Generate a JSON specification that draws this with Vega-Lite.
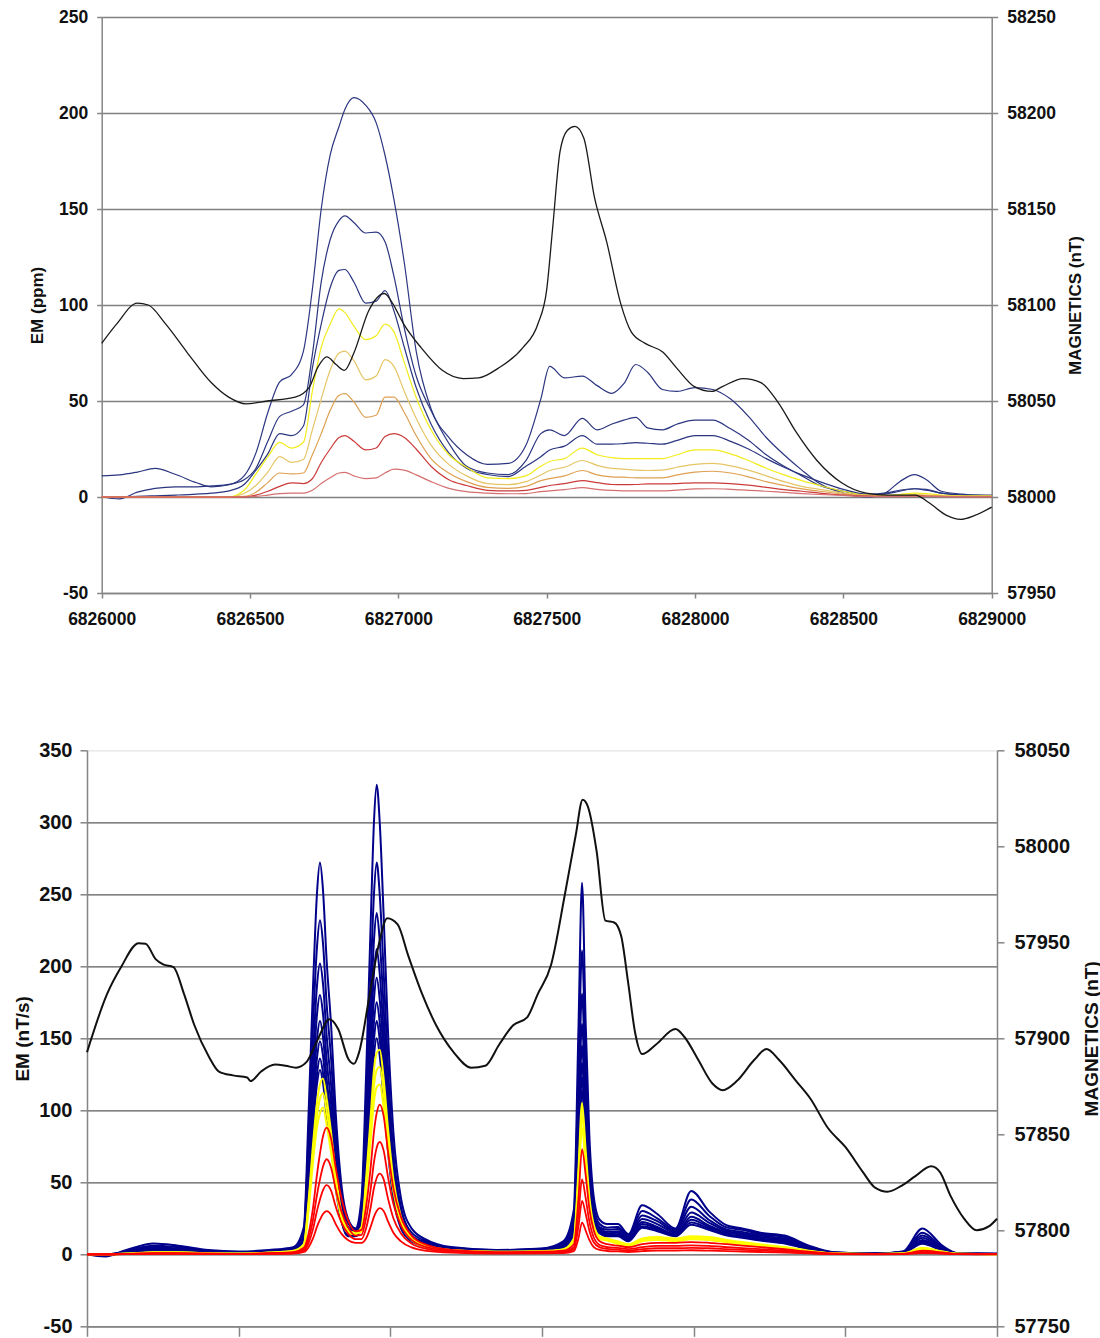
{
"$schema":"https://vega.github.io/schema/vega-lite/v6.json",
"background":"white",
"padding":{"left":13,"top":8,"right":0,"bottom":0},
"bounds":"flush",
"spacing":157.3,
"config":{"view":{"stroke":null},"axis":{"labelFont":"Liberation Sans","titleFont":"Liberation Sans","labelColor":"#111111","titleColor":"#111111","labelFontWeight":"bold","titleFontWeight":"bold","domainColor":"#858585","tickColor":"#858585","domainWidth":1.5,"tickWidth":1.5}},
"datasets":{
"tem":[
{"x":6826000,"t1":11,"t2":0,"t3":0,"t4":0,"t5":0,"t6":0,"t7":0,"t8":0},
{"x":6826060,"t1":11.5,"t2":-1,"t3":0,"t4":0,"t5":0,"t6":0,"t7":0,"t8":0},
{"x":6826120,"t1":13,"t2":2.5,"t3":0.3,"t4":0,"t5":0,"t6":0,"t7":0,"t8":0},
{"x":6826180,"t1":14.9,"t2":4.5,"t3":0.6,"t4":0,"t5":0,"t6":0,"t7":0,"t8":0},
{"x":6826250,"t1":11.7,"t2":5.3,"t3":1,"t4":0,"t5":0,"t6":0,"t7":0,"t8":0},
{"x":6826320,"t1":7.4,"t2":5.3,"t3":1.5,"t4":0,"t5":0,"t6":0,"t7":0,"t8":0},
{"x":6826370,"t1":5.3,"t2":5.8,"t3":2,"t4":0,"t5":0,"t6":0,"t7":0,"t8":0},
{"x":6826430,"t1":6.4,"t2":6.6,"t3":3.2,"t4":0.1,"t5":0,"t6":0,"t7":0,"t8":0},
{"x":6826480,"t1":11,"t2":9,"t3":6.5,"t4":3.5,"t5":1.8,"t6":0.3,"t7":0,"t8":0.1},
{"x":6826520,"t1":23,"t2":15,"t3":14,"t4":12,"t5":6,"t6":2.5,"t7":1,"t8":0.3},
{"x":6826560,"t1":44,"t2":29,"t3":22.5,"t4":21,"t5":13,"t6":7.5,"t7":3,"t8":1},
{"x":6826600,"t1":60,"t2":42,"t3":33,"t4":28.5,"t5":21,"t6":12.5,"t7":5.5,"t8":1.8},
{"x":6826640,"t1":63.8,"t2":44.7,"t3":32,"t4":25.5,"t5":18,"t6":12,"t7":7.4,"t8":2},
{"x":6826680,"t1":76,"t2":48,"t3":37,"t4":28.5,"t5":19.5,"t6":12.5,"t7":7,"t8":2},
{"x":6826710,"t1":108,"t2":74,"t3":67,"t4":55,"t5":35,"t6":22,"t7":9.5,"t8":3.5},
{"x":6826740,"t1":150,"t2":112,"t3":90,"t4":78,"t5":51,"t6":33,"t7":18,"t8":7},
{"x":6826770,"t1":178,"t2":134,"t3":109,"t4":90,"t5":66,"t6":45,"t7":25,"t8":10},
{"x":6826800,"t1":193,"t2":144,"t3":118,"t4":98,"t5":75,"t6":53,"t7":31,"t8":12.5},
{"x":6826820,"t1":202,"t2":146.4,"t3":118.5,"t4":96,"t5":76,"t6":53.8,"t7":32,"t8":12.8},
{"x":6826850,"t1":208,"t2":143,"t3":112,"t4":89,"t5":71,"t6":49.5,"t7":29,"t8":11},
{"x":6826890,"t1":204,"t2":137.5,"t3":101,"t4":82,"t5":61,"t6":41.5,"t7":24.5,"t8":9.6},
{"x":6826925,"t1":195,"t2":138,"t3":102,"t4":84,"t5":63,"t6":42.6,"t7":25.5,"t8":10},
{"x":6826955,"t1":178,"t2":133,"t3":107.5,"t4":90,"t5":71.5,"t6":52,"t7":31.5,"t8":12.5},
{"x":6826985,"t1":155,"t2":115,"t3":97,"t4":86,"t5":68,"t6":52,"t7":33,"t8":14.5},
{"x":6827020,"t1":122,"t2":88,"t3":78,"t4":70,"t5":55,"t6":44,"t7":31,"t8":14},
{"x":6827060,"t1":76,"t2":63,"t3":57,"t4":52,"t5":41,"t6":32,"t7":25,"t8":11.5},
{"x":6827110,"t1":46,"t2":45,"t3":38,"t4":35,"t5":27,"t6":20,"t7":16,"t8":8},
{"x":6827170,"t1":31,"t2":28,"t3":23,"t4":22,"t5":17,"t6":12.5,"t7":9,"t8":4.5},
{"x":6827230,"t1":22,"t2":16,"t3":15,"t4":15.5,"t5":11,"t6":8,"t7":6,"t8":2.8},
{"x":6827300,"t1":17,"t2":12.5,"t3":11.7,"t4":10,"t5":7,"t6":5,"t7":3.5,"t8":2},
{"x":6827370,"t1":17.5,"t2":11.7,"t3":10.6,"t4":9.6,"t5":6.4,"t6":4.5,"t7":3.2,"t8":1.7},
{"x":6827430,"t1":27,"t2":19,"t3":16,"t4":11,"t5":8,"t6":5.5,"t7":3.5,"t8":1.8},
{"x":6827480,"t1":51,"t2":33,"t3":21,"t4":16,"t5":11.5,"t6":8.5,"t7":5,"t8":2.8},
{"x":6827510,"t1":68,"t2":35,"t3":24.5,"t4":18.5,"t5":13.8,"t6":9.6,"t7":6,"t8":3.2},
{"x":6827560,"t1":62,"t2":32,"t3":26.5,"t4":20,"t5":15.5,"t6":11,"t7":7,"t8":3.8},
{"x":6827620,"t1":63,"t2":41,"t3":32,"t4":25.5,"t5":19,"t6":13.8,"t7":8.5,"t8":4.9},
{"x":6827670,"t1":58,"t2":35,"t3":27.5,"t4":22,"t5":16.5,"t6":11.5,"t7":7.5,"t8":4},
{"x":6827720,"t1":54,"t2":38,"t3":27.5,"t4":20.5,"t5":14.9,"t6":10.5,"t7":6.5,"t8":3.4},
{"x":6827760,"t1":59,"t2":40,"t3":27.8,"t4":20,"t5":14.5,"t6":10.3,"t7":6.4,"t8":3.2},
{"x":6827800,"t1":69,"t2":41.5,"t3":28.3,"t4":20,"t5":14,"t6":10,"t7":6.5,"t8":3.2},
{"x":6827840,"t1":65,"t2":36,"t3":28,"t4":20,"t5":13.8,"t6":10,"t7":6.8,"t8":3.2},
{"x":6827890,"t1":56,"t2":35,"t3":27.5,"t4":20,"t5":14,"t6":10,"t7":6.8,"t8":3.2},
{"x":6827940,"t1":55,"t2":38,"t3":29.5,"t4":22,"t5":15.5,"t6":11.5,"t7":7,"t8":3.6},
{"x":6828000,"t1":57,"t2":40,"t3":32,"t4":24.5,"t5":17,"t6":13,"t7":7.4,"t8":4.2},
{"x":6828060,"t1":56,"t2":40,"t3":32,"t4":24.5,"t5":17.5,"t6":13.4,"t7":7.4,"t8":4.3},
{"x":6828120,"t1":51,"t2":35.5,"t3":29,"t4":22.5,"t5":16.2,"t6":12.5,"t7":7,"t8":4},
{"x":6828180,"t1":42,"t2":29.5,"t3":25,"t4":19,"t5":14,"t6":10.5,"t7":6.2,"t8":3.5},
{"x":6828240,"t1":31,"t2":22,"t3":20,"t4":15,"t5":11,"t6":8,"t7":5,"t8":3},
{"x":6828300,"t1":22,"t2":16,"t3":15.5,"t4":11.5,"t5":8,"t6":6,"t7":3.8,"t8":2.4},
{"x":6828360,"t1":14,"t2":11,"t3":11.5,"t4":8.5,"t5":5.5,"t6":4.2,"t7":3,"t8":1.8},
{"x":6828420,"t1":7,"t2":6,"t3":8,"t4":6,"t5":4,"t6":3,"t7":2,"t8":1.3},
{"x":6828500,"t1":2,"t2":3,"t3":4,"t4":3,"t5":2,"t6":1.5,"t7":1,"t8":0.8},
{"x":6828580,"t1":0,"t2":1,"t3":1.5,"t4":1,"t5":0.8,"t6":0.6,"t7":0.5,"t8":0.3},
{"x":6828640,"t1":2,"t2":1.5,"t3":2,"t4":0.8,"t5":0.5,"t6":0.3,"t7":0.3,"t8":0.2},
{"x":6828690,"t1":8,"t2":3,"t3":3.5,"t4":1.3,"t5":0.8,"t6":0.5,"t7":0.3,"t8":0.2},
{"x":6828740,"t1":11.7,"t2":4.3,"t3":4.3,"t4":2,"t5":1.2,"t6":0.8,"t7":0.5,"t8":0.3},
{"x":6828780,"t1":9,"t2":3.5,"t3":4,"t4":1.8,"t5":1,"t6":0.6,"t7":0.4,"t8":0.3},
{"x":6828830,"t1":3,"t2":2,"t3":2,"t4":1,"t5":0.6,"t6":0.3,"t7":0.3,"t8":0.2},
{"x":6828900,"t1":1.5,"t2":1,"t3":1,"t4":0.6,"t5":0.4,"t6":0.2,"t7":0.2,"t8":0.2},
{"x":6828950,"t1":1,"t2":0.8,"t3":0.8,"t4":0.6,"t5":0.4,"t6":0.2,"t7":0.2,"t8":0.2},
{"x":6829000,"t1":1,"t2":0.6,"t3":0.6,"t4":0.6,"t5":0.4,"t6":0.2,"t7":0.2,"t8":0.2}
],
"tmag":[
{"x":6826000,"m":58080},{"x":6826050,"m":58090},{"x":6826120,"m":58101},{"x":6826157,"m":58100},{"x":6826216,"m":58090},{"x":6826287,"m":58075.5},{"x":6826369,"m":58059.6},{"x":6826428,"m":58052},{"x":6826487,"m":58048.5},{"x":6826558,"m":58050},{"x":6826652,"m":58052},{"x":6826699,"m":58057},{"x":6826730,"m":58068},{"x":6826759,"m":58073},{"x":6826790,"m":58069},{"x":6826818,"m":58066},{"x":6826850,"m":58075},{"x":6826900,"m":58097},{"x":6826953,"m":58106},{"x":6826980,"m":58101},{"x":6827018,"m":58090},{"x":6827077,"m":58077.7},{"x":6827148,"m":58066},{"x":6827219,"m":58061.7},{"x":6827270,"m":58062},{"x":6827336,"m":58067},{"x":6827419,"m":58077.7},{"x":6827470,"m":58090},{"x":6827500,"m":58108},{"x":6827520,"m":58140},{"x":6827545,"m":58180},{"x":6827570,"m":58191},{"x":6827595,"m":58193},{"x":6827625,"m":58187},{"x":6827661,"m":58156},{"x":6827702,"m":58133},{"x":6827749,"m":58101},{"x":6827785,"m":58086},{"x":6827832,"m":58080},{"x":6827891,"m":58075.5},{"x":6827939,"m":58067},{"x":6827998,"m":58057.5},{"x":6828057,"m":58055},{"x":6828092,"m":58057.5},{"x":6828163,"m":58061.7},{"x":6828222,"m":58059.6},{"x":6828281,"m":58049},{"x":6828340,"m":58034},{"x":6828411,"m":58019},{"x":6828494,"m":58007.4},{"x":6828577,"m":58002},{"x":6828648,"m":58001},{"x":6828742,"m":58001},{"x":6828789,"m":57997},{"x":6828848,"m":57990.4},{"x":6828895,"m":57988.3},{"x":6828943,"m":57990.4},{"x":6829000,"m":57994.7}
],
"bem":[
{"x":6826000,"a1":0,"a2":0,"a3":0,"a4":0,"a5":0,"a6":0,"a7":0,"a8":0,"y1":0,"y2":0,"y3":0,"r1":0,"r2":0,"r3":0,"r4":0},
{"x":6826060,"a1":-1.5,"a2":-1,"a3":-0.5,"a4":0,"a5":0,"a6":0,"a7":0,"a8":0,"y1":0,"y2":0,"y3":0,"r1":0,"r2":0,"r3":0,"r4":0},
{"x":6826130,"a1":3,"a2":2.5,"a3":2,"a4":1.5,"a5":1.2,"a6":1,"a7":0.8,"a8":0.7,"y1":0.5,"y2":0.4,"y3":0.4,"r1":0.3,"r2":0.2,"r3":0.15,"r4":0.1},
{"x":6826220,"a1":7.5,"a2":6,"a3":5,"a4":4,"a5":3.2,"a6":2.8,"a7":2.4,"a8":2,"y1":1.5,"y2":1.3,"y3":1.2,"r1":0.8,"r2":0.6,"r3":0.4,"r4":0.3},
{"x":6826300,"a1":6,"a2":5,"a3":4,"a4":3.5,"a5":3,"a6":2.5,"a7":2.2,"a8":2,"y1":1.5,"y2":1.3,"y3":1.2,"r1":0.8,"r2":0.6,"r3":0.4,"r4":0.3},
{"x":6826400,"a1":3,"a2":2.5,"a3":2,"a4":1.8,"a5":1.5,"a6":1.3,"a7":1.2,"a8":1.1,"y1":0.8,"y2":0.7,"y3":0.6,"r1":0.5,"r2":0.4,"r3":0.3,"r4":0.2},
{"x":6826500,"a1":2,"a2":1.5,"a3":1.2,"a4":1,"a5":0.9,"a6":0.8,"a7":0.7,"a8":0.6,"y1":0.5,"y2":0.4,"y3":0.4,"r1":0.3,"r2":0.2,"r3":0.2,"r4":0.1},
{"x":6826600,"a1":3,"a2":2.5,"a3":2.2,"a4":2,"a5":1.8,"a6":1.6,"a7":1.5,"a8":1.4,"y1":1.2,"y2":1.1,"y3":1,"r1":0.8,"r2":0.6,"r3":0.4,"r4":0.3},
{"x":6826680,"a1":5,"a2":4.5,"a3":4,"a4":3.5,"a5":3.2,"a6":3,"a7":2.8,"a8":2.6,"y1":2.4,"y2":2.2,"y3":2,"r1":1.5,"r2":1.1,"r3":0.8,"r4":0.5},
{"x":6826715,"a1":19,"a2":16.5,"a3":14.5,"a4":13,"a5":12,"a6":11,"a7":10,"a8":9.5,"y1":7,"y2":6.5,"y3":6,"r1":4.5,"r2":3.4,"r3":2.5,"r4":1.6},
{"x":6826730,"a1":95,"a2":81,"a3":71,"a4":63,"a5":57,"a6":52,"a7":48,"a8":45,"y1":36,"y2":33,"y3":30,"r1":14,"r2":10.5,"r3":7.6,"r4":4.8},
{"x":6826745,"a1":185,"a2":158,"a3":137,"a4":122,"a5":110,"a6":101,"a7":92,"a8":87,"y1":76,"y2":70,"y3":64,"r1":32,"r2":24,"r3":17.5,"r4":11},
{"x":6826758,"a1":250,"a2":213,"a3":186,"a4":166,"a5":149,"a6":136,"a7":125,"a8":118,"y1":105,"y2":96,"y3":88,"r1":55,"r2":41,"r3":30,"r4":19},
{"x":6826768,"a1":272,"a2":232,"a3":202,"a4":180,"a5":162,"a6":148,"a7":136,"a8":128,"y1":118,"y2":108,"y3":98,"r1":70,"r2":52,"r3":38,"r4":24},
{"x":6826778,"a1":253,"a2":216,"a3":188,"a4":167,"a5":151,"a6":138,"a7":126,"a8":119,"y1":122,"y2":112,"y3":102,"r1":82,"r2":61,"r3":44.5,"r4":28},
{"x":6826790,"a1":204,"a2":174,"a3":152,"a4":135,"a5":122,"a6":111,"a7":102,"a8":96,"y1":108,"y2":99,"y3":90,"r1":88,"r2":66,"r3":48,"r4":30},
{"x":6826805,"a1":158,"a2":135,"a3":117,"a4":104,"a5":94,"a6":86,"a7":79,"a8":74,"y1":84,"y2":77,"y3":70,"r1":80,"r2":60,"r3":44,"r4":27.5},
{"x":6826820,"a1":98,"a2":84,"a3":73,"a4":65,"a5":58,"a6":53,"a7":49,"a8":46,"y1":55,"y2":50,"y3":46,"r1":60,"r2":45,"r3":33,"r4":21},
{"x":6826840,"a1":46,"a2":40,"a3":35,"a4":31,"a5":28,"a6":25,"a7":23,"a8":22,"y1":28,"y2":26,"y3":24,"r1":38,"r2":29,"r3":21.5,"r4":14},
{"x":6826860,"a1":25,"a2":22,"a3":19,"a4":17,"a5":15.5,"a6":14,"a7":13,"a8":12.5,"y1":17,"y2":16,"y3":15,"r1":24,"r2":19,"r3":14.5,"r4":10},
{"x":6826885,"a1":18,"a2":17,"a3":16,"a4":15,"a5":14,"a6":13.5,"a7":13,"a8":12.5,"y1":15,"y2":14.5,"y3":14,"r1":16,"r2":13,"r3":10.5,"r4":8},
{"x":6826905,"a1":39,"a2":33,"a3":28.5,"a4":25.5,"a5":23,"a6":21,"a7":19.5,"a8":18,"y1":19,"y2":17.5,"y3":16,"r1":17,"r2":13.5,"r3":10.5,"r4":8},
{"x":6826920,"a1":124,"a2":103,"a3":90,"a4":81,"a5":73,"a6":66.5,"a7":61.5,"a8":57,"y1":52,"y2":48,"y3":43,"r1":33,"r2":25,"r3":18,"r4":11},
{"x":6826935,"a1":228,"a2":190,"a3":166,"a4":148,"a5":134,"a6":122,"a7":113,"a8":105,"y1":95,"y2":87,"y3":79,"r1":60,"r2":45,"r3":32.5,"r4":19},
{"x":6826946,"a1":300,"a2":250,"a3":218,"a4":195,"a5":177,"a6":161,"a7":149,"a8":138,"y1":128,"y2":117,"y3":106,"r1":85,"r2":64,"r3":46,"r4":26},
{"x":6826955,"a1":326,"a2":272,"a3":237,"a4":212,"a5":192,"a6":175,"a7":162,"a8":150,"y1":140,"y2":128,"y3":116,"r1":98,"r2":74,"r3":53,"r4":30},
{"x":6826965,"a1":300,"a2":250,"a3":218,"a4":195,"a5":177,"a6":161,"a7":149,"a8":138,"y1":142,"y2":130,"y3":118,"r1":104,"r2":78,"r3":56,"r4":32},
{"x":6826978,"a1":235,"a2":196,"a3":171,"a4":153,"a5":138,"a6":126,"a7":117,"a8":108,"y1":122,"y2":112,"y3":102,"r1":96,"r2":72,"r3":52,"r4":30},
{"x":6826992,"a1":156,"a2":131,"a3":114,"a4":102,"a5":92,"a6":84,"a7":78,"a8":72,"y1":88,"y2":80,"y3":73,"r1":72,"r2":54,"r3":39,"r4":23},
{"x":6827010,"a1":85,"a2":71,"a3":62,"a4":55,"a5":50,"a6":45.5,"a7":42,"a8":39,"y1":52,"y2":48,"y3":44,"r1":46,"r2":35,"r3":25,"r4":15},
{"x":6827035,"a1":39,"a2":33,"a3":29,"a4":26,"a5":23,"a6":21,"a7":19.5,"a8":18,"y1":26,"y2":24,"y3":22,"r1":26,"r2":20,"r3":14.5,"r4":9},
{"x":6827070,"a1":18,"a2":15,"a3":13,"a4":12,"a5":11,"a6":10,"a7":9.5,"a8":9,"y1":12,"y2":11,"y3":10,"r1":13,"r2":10,"r3":7.5,"r4":4.8},
{"x":6827120,"a1":10,"a2":9,"a3":8,"a4":7,"a5":6.5,"a6":6,"a7":5.6,"a8":5.3,"y1":6,"y2":5.5,"y3":5,"r1":6.5,"r2":5,"r3":3.7,"r4":2.4},
{"x":6827200,"a1":5,"a2":4.5,"a3":4,"a4":3.8,"a5":3.5,"a6":3.3,"a7":3.1,"a8":3,"y1":3,"y2":2.8,"y3":2.6,"r1":3,"r2":2.3,"r3":1.7,"r4":1.1},
{"x":6827350,"a1":3,"a2":2.8,"a3":2.5,"a4":2.3,"a5":2.2,"a6":2,"a7":1.9,"a8":1.8,"y1":1.8,"y2":1.7,"y3":1.6,"r1":1.5,"r2":1.1,"r3":0.8,"r4":0.5},
{"x":6827500,"a1":4,"a2":3.8,"a3":3.5,"a4":3.2,"a5":3,"a6":2.8,"a7":2.6,"a8":2.5,"y1":2.2,"y2":2,"y3":1.9,"r1":1.8,"r2":1.3,"r3":1,"r4":0.7},
{"x":6827570,"a1":9,"a2":8,"a3":7,"a4":6.5,"a5":6,"a6":5.5,"a7":5,"a8":4.7,"y1":3.5,"y2":3.2,"y3":3,"r1":2.5,"r2":1.8,"r3":1.3,"r4":0.8},
{"x":6827605,"a1":31,"a2":25,"a3":22,"a4":19,"a5":17.4,"a6":16,"a7":15,"a8":14,"y1":11,"y2":10,"y3":9,"r1":7,"r2":5,"r3":3.6,"r4":2.2},
{"x":6827620,"a1":155,"a2":127,"a3":109,"a4":96,"a5":87,"a6":80,"a7":74,"a8":68,"y1":58,"y2":53,"y3":48,"r1":38,"r2":27,"r3":19,"r4":11},
{"x":6827632,"a1":258,"a2":211,"a3":181,"a4":160,"a5":145,"a6":133,"a7":123,"a8":114,"y1":105,"y2":96,"y3":88,"r1":73,"r2":52,"r3":37,"r4":22},
{"x":6827644,"a1":160,"a2":131,"a3":112,"a4":99,"a5":90,"a6":82,"a7":76,"a8":71,"y1":72,"y2":66,"y3":60,"r1":55,"r2":39,"r3":28,"r4":16.5},
{"x":6827656,"a1":83,"a2":68,"a3":58,"a4":51,"a5":46,"a6":43,"a7":39,"a8":36,"y1":40,"y2":36.5,"y3":33.5,"r1":32,"r2":23,"r3":16.5,"r4":10},
{"x":6827670,"a1":41,"a2":34,"a3":29,"a4":26,"a5":24,"a6":22,"a7":20.5,"a8":19,"y1":21,"y2":19,"y3":17.5,"r1":17,"r2":12,"r3":8.5,"r4":5.2},
{"x":6827690,"a1":24,"a2":21,"a3":19,"a4":18,"a5":17,"a6":16,"a7":15,"a8":14.5,"y1":12.5,"y2":11.5,"y3":10.5,"r1":9,"r2":6.5,"r3":4.8,"r4":3},
{"x":6827715,"a1":21,"a2":18.5,"a3":17,"a4":15.5,"a5":14.5,"a6":13.5,"a7":13,"a8":12.5,"y1":11,"y2":10,"y3":9.5,"r1":7,"r2":5,"r3":3.7,"r4":2.3},
{"x":6827750,"a1":21,"a2":19,"a3":17.5,"a4":16,"a5":15,"a6":14,"a7":13.2,"a8":12.5,"y1":9,"y2":8,"y3":7.2,"r1":6,"r2":4.4,"r3":3.2,"r4":2},
{"x":6827785,"a1":14,"a2":13,"a3":12,"a4":11,"a5":10.5,"a6":10,"a7":9.5,"a8":9,"y1":7,"y2":6.3,"y3":5.7,"r1":5,"r2":3.6,"r3":2.6,"r4":1.6},
{"x":6827830,"a1":34,"a2":30,"a3":27,"a4":24.5,"a5":22.5,"a6":21,"a7":19.5,"a8":18.5,"y1":11,"y2":10,"y3":9,"r1":7,"r2":5,"r3":3.6,"r4":2.2},
{"x":6827880,"a1":28,"a2":25,"a3":23,"a4":21,"a5":19,"a6":18,"a7":17,"a8":16,"y1":12,"y2":11,"y3":10,"r1":8,"r2":5.8,"r3":4.2,"r4":2.6},
{"x":6827940,"a1":18,"a2":17,"a3":16,"a4":15,"a5":14,"a6":13.5,"a7":13,"a8":12.5,"y1":11,"y2":10,"y3":9,"r1":8,"r2":5.8,"r3":4.2,"r4":2.6},
{"x":6827992,"a1":44,"a2":38,"a3":33,"a4":29,"a5":26,"a6":24,"a7":22,"a8":20.5,"y1":12.5,"y2":11.5,"y3":10.5,"r1":8.5,"r2":6.2,"r3":4.5,"r4":2.8},
{"x":6828050,"a1":30,"a2":27,"a3":24,"a4":22,"a5":20,"a6":19,"a7":18,"a8":17,"y1":12,"y2":11,"y3":10,"r1":8,"r2":5.8,"r3":4.2,"r4":2.6},
{"x":6828110,"a1":20,"a2":18.5,"a3":17,"a4":16,"a5":15,"a6":14,"a7":13.5,"a8":13,"y1":10,"y2":9,"y3":8.2,"r1":7,"r2":5,"r3":3.6,"r4":2.2},
{"x":6828160,"a1":18,"a2":17,"a3":15.5,"a4":14.5,"a5":13.5,"a6":12.5,"a7":12,"a8":11.5,"y1":8.5,"y2":7.8,"y3":7,"r1":6,"r2":4.3,"r3":3.1,"r4":1.9},
{"x":6828220,"a1":15,"a2":14,"a3":13,"a4":12,"a5":11,"a6":10.5,"a7":10,"a8":9.5,"y1":7,"y2":6.3,"y3":5.7,"r1":5,"r2":3.6,"r3":2.6,"r4":1.6},
{"x":6828300,"a1":13,"a2":12,"a3":11,"a4":10,"a5":9.3,"a6":8.6,"a7":8,"a8":7.5,"y1":5,"y2":4.5,"y3":4,"r1":3.5,"r2":2.5,"r3":1.8,"r4":1.1},
{"x":6828380,"a1":6,"a2":5.5,"a3":5,"a4":4.6,"a5":4.2,"a6":4,"a7":3.7,"a8":3.5,"y1":2.5,"y2":2.2,"y3":2,"r1":1.8,"r2":1.3,"r3":0.9,"r4":0.6},
{"x":6828460,"a1":1.5,"a2":1.3,"a3":1.2,"a4":1.1,"a5":1,"a6":1,"a7":0.9,"a8":0.8,"y1":0.6,"y2":0.5,"y3":0.5,"r1":0.5,"r2":0.4,"r3":0.3,"r4":0.2},
{"x":6828600,"a1":0.5,"a2":0.5,"a3":0.4,"a4":0.4,"a5":0.4,"a6":0.3,"a7":0.3,"a8":0.3,"y1":0.2,"y2":0.2,"y3":0.2,"r1":0.1,"r2":0.1,"r3":0.1,"r4":0},
{"x":6828690,"a1":2,"a2":1.8,"a3":1.6,"a4":1.4,"a5":1.3,"a6":1.2,"a7":1.1,"a8":1,"y1":0.6,"y2":0.5,"y3":0.5,"r1":0.3,"r2":0.2,"r3":0.2,"r4":0.1},
{"x":6828754,"a1":18,"a2":15,"a3":13,"a4":11.5,"a5":10,"a6":9,"a7":8,"a8":7.3,"y1":4.5,"y2":4,"y3":3.6,"r1":2.5,"r2":1.8,"r3":1.3,"r4":0.8},
{"x":6828820,"a1":6,"a2":5,"a3":4.4,"a4":4,"a5":3.5,"a6":3.2,"a7":2.9,"a8":2.6,"y1":2,"y2":1.8,"y3":1.6,"r1":1.3,"r2":1,"r3":0.7,"r4":0.5},
{"x":6828870,"a1":0.8,"a2":0.7,"a3":0.6,"a4":0.5,"a5":0.5,"a6":0.4,"a7":0.4,"a8":0.4,"y1":0.3,"y2":0.3,"y3":0.3,"r1":0.2,"r2":0.2,"r3":0.1,"r4":0.1},
{"x":6829000,"a1":0.3,"a2":0.3,"a3":0.3,"a4":0.2,"a5":0.2,"a6":0.2,"a7":0.2,"a8":0.2,"y1":0.1,"y2":0.1,"y3":0.1,"r1":0.1,"r2":0.1,"r3":0.1,"r4":0}
],
"bmag":[
{"x":6826000,"m":57892.7},{"x":6826066,"m":57923},{"x":6826112,"m":57937},{"x":6826170,"m":57949.5},{"x":6826193,"m":57949.2},{"x":6826227,"m":57941.1},{"x":6826251,"m":57938.5},{"x":6826285,"m":57937.1},{"x":6826320,"m":57923},{"x":6826354,"m":57906.8},{"x":6826401,"m":57890.7},{"x":6826435,"m":57882.7},{"x":6826481,"m":57880.7},{"x":6826528,"m":57879.6},{"x":6826539,"m":57877.7},{"x":6826574,"m":57882.7},{"x":6826620,"m":57886.3},{"x":6826655,"m":57885.7},{"x":6826689,"m":57884.7},{"x":6826724,"m":57887.7},{"x":6826759,"m":57898.8},{"x":6826799,"m":57909.9},{"x":6826828,"m":57904.8},{"x":6826863,"m":57888.8},{"x":6826880,"m":57886.7},{"x":6826897,"m":57892.7},{"x":6826932,"m":57923},{"x":6826961,"m":57948.2},{"x":6826990,"m":57962.5},{"x":6827024,"m":57959.3},{"x":6827059,"m":57943.1},{"x":6827105,"m":57923},{"x":6827151,"m":57906.8},{"x":6827209,"m":57892.7},{"x":6827267,"m":57884.7},{"x":6827313,"m":57885.7},{"x":6827359,"m":57896.8},{"x":6827405,"m":57906.8},{"x":6827451,"m":57910.9},{"x":6827486,"m":57923},{"x":6827530,"m":57938.3},{"x":6827576,"m":57975.4},{"x":6827611,"m":58005.6},{"x":6827634,"m":58024.2},{"x":6827651,"m":58020.8},{"x":6827680,"m":57997.5},{"x":6827709,"m":57961.3},{"x":6827738,"m":57960.3},{"x":6827761,"m":57953.3},{"x":6827784,"m":57929},{"x":6827807,"m":57902.9},{"x":6827830,"m":57891.8},{"x":6827876,"m":57896.8},{"x":6827940,"m":57904.8},{"x":6827969,"m":57900.8},{"x":6828015,"m":57888.8},{"x":6828061,"m":57876.6},{"x":6828096,"m":57873},{"x":6828142,"m":57877.7},{"x":6828200,"m":57888.8},{"x":6828240,"m":57894.4},{"x":6828281,"m":57888.8},{"x":6828338,"m":57877.7},{"x":6828385,"m":57868.5},{"x":6828442,"m":57853.4},{"x":6828500,"m":57843.4},{"x":6828558,"m":57830.3},{"x":6828598,"m":57822.2},{"x":6828639,"m":57820.1},{"x":6828685,"m":57823.2},{"x":6828731,"m":57828.2},{"x":6828783,"m":57833.3},{"x":6828812,"m":57830.3},{"x":6828846,"m":57818.2},{"x":6828892,"m":57806},{"x":6828933,"m":57800},{"x":6828973,"m":57802},{"x":6829000,"m":57806}
]
},
"vconcat":[
{
"width":910,"height":576,
"encoding":{"x":{"field":"x","type":"quantitative","scale":{"domain":[6826000,6829000],"nice":false,"zero":false,"range":[14.7,904.7]},"axis":{"values":[6826000,6826500,6827000,6827500,6828000,6828500,6829000],"format":"d","title":null,"labelFontSize":17.5,"labelPadding":12,"tickSize":5,"grid":false,"labelFlush":false}}},
"layer":[
{"data":{"name":"tem"},"transform":[{"fold":["t1","t2","t3","t4","t5","t6","t7","t8"],"as":["ch","v"]}],
"mark":{"type":"line","strokeWidth":1.2,"interpolate":"monotone"},
"encoding":{
"y":{"field":"v","type":"quantitative","scale":{"domain":[-50,250],"nice":false},"axis":{"orient":"left","offset":-14.7,"values":[-50,0,50,100,150,200,250],"labelExpr":"replace(datum.label, '\u2212', '-')","title":"EM (ppm)","titleFontSize":17,"titlePadding":12,"labelFontSize":17.5,"labelPadding":9,"tickSize":5,"grid":true,"gridColor":"#808080","gridWidth":1.5}},
"color":{"field":"ch","type":"nominal","scale":{"domain":["t1","t2","t3","t4","t5","t6","t7","t8"],"range":["#2b3680","#2b3680","#2b3680","#f2ec1c","#e6c565","#dea050","#cc3b3b","#d56f6f"]},"legend":null}}},
{"data":{"name":"tmag"},
"mark":{"type":"line","color":"#1a1a1a","strokeWidth":1.3,"interpolate":"monotone"},
"encoding":{"y":{"field":"m","type":"quantitative","scale":{"domain":[57950,58250],"nice":false,"zero":false},"axis":{"orient":"right","offset":-5.3,"values":[57950,58000,58050,58100,58150,58200,58250],"format":"d","title":"MAGNETICS (nT)","titleAngle":-90,"titleBaseline":"top","titleAlign":"center","titleFontSize":17,"titlePadding":12,"labelFontSize":17.5,"labelPadding":9,"tickSize":6,"grid":false}}}}
],
"resolve":{"scale":{"y":"independent"}}
},
{
"width":910,"height":576,
"encoding":{"x":{"field":"x","type":"quantitative","scale":{"domain":[6826000,6829000],"nice":false,"zero":false},"axis":{"values":[6826000,6826500,6827000,6827500,6828000,6828500,6829000],"labels":false,"title":null,"tickSize":10,"grid":false}}},
"layer":[
{"encoding":{"y":{"field":"v","type":"quantitative","scale":{"domain":[-50,350],"nice":false},"axis":{"orient":"left","values":[-50,0,50,100,150,200,250,300,350],"labelExpr":"replace(datum.label, '\u2212', '-')","title":"EM (nT/s)","titleFontSize":19,"titlePadding":6,"labelFontSize":20,"labelPadding":8,"tickSize":7,"grid":true,"gridColor":{"condition":{"test":"datum.value === 350","value":"#e3e3e3"},"value":"#5a5a5a"},"gridWidth":1.3}}},
"layer":[
{"data":{"name":"bem"},"transform":[{"fold":["a1","a2","a3","a4","a5","a6","a7","a8"],"as":["ch","v"]}],"mark":{"type":"line","color":"#00008b","strokeWidth":2,"interpolate":"monotone"},"encoding":{"detail":{"field":"ch","type":"nominal"}}},
{"data":{"name":"bem"},"transform":[{"fold":["y1","y2","y3"],"as":["ch","v"]}],"mark":{"type":"line","color":"#ffff00","strokeWidth":2,"interpolate":"monotone"},"encoding":{"detail":{"field":"ch","type":"nominal"}}},
{"data":{"name":"bem"},"transform":[{"fold":["r1","r2","r3","r4"],"as":["ch","v"]}],"mark":{"type":"line","color":"#ff0000","strokeWidth":1.8,"interpolate":"monotone"},"encoding":{"detail":{"field":"ch","type":"nominal"}}}
]},
{"data":{"name":"bmag"},
"mark":{"type":"line","color":"#111111","strokeWidth":2,"interpolate":"monotone"},
"encoding":{"y":{"field":"m","type":"quantitative","scale":{"domain":[57750,58050],"nice":false,"zero":false},"axis":{"orient":"right","values":[57750,57800,57850,57900,57950,58000,58050],"format":"d","title":"MAGNETICS (nT)","titleAngle":-90,"titleBaseline":"top","titleAlign":"center","titleFontSize":19,"titlePadding":13,"labelFontSize":20,"labelPadding":10,"tickSize":7,"grid":false}}}}
],
"resolve":{"scale":{"y":"independent"}}
}
]
}
